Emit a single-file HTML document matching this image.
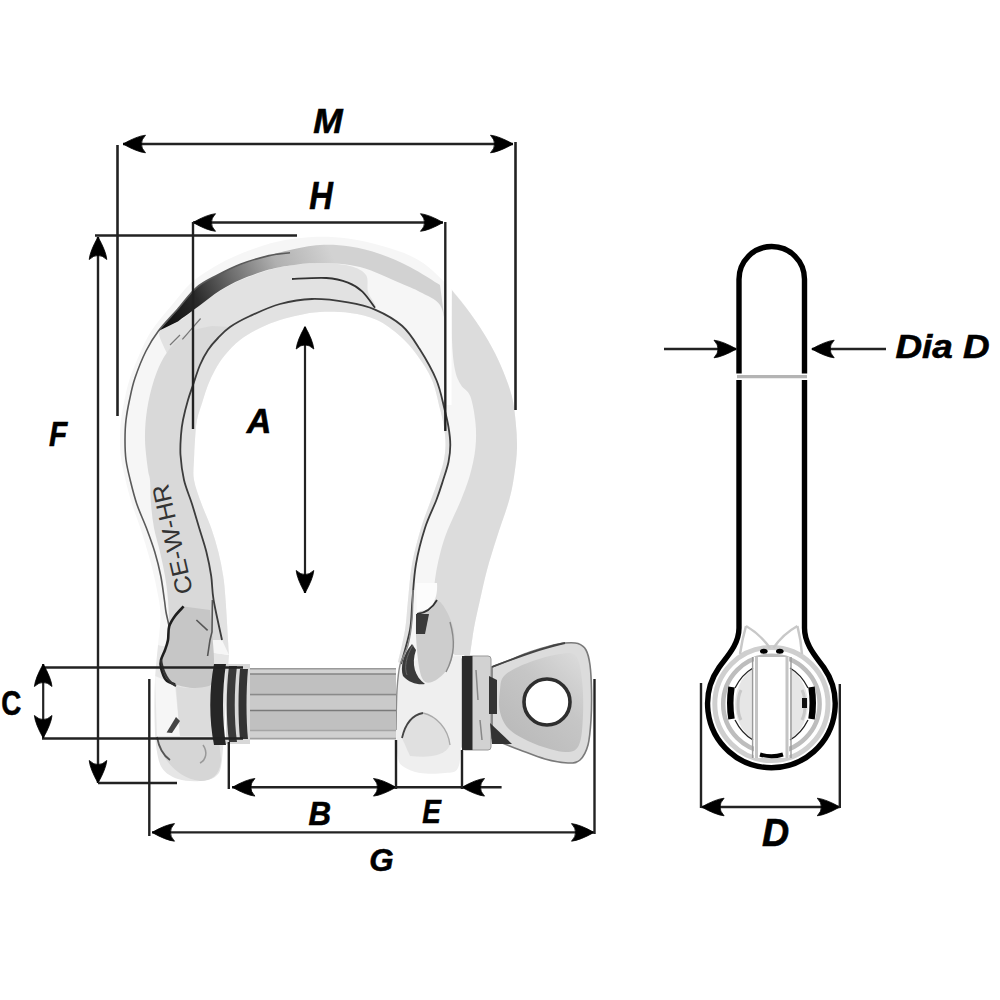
<!DOCTYPE html><html><head><meta charset="utf-8"><style>html,body{margin:0;padding:0;background:#fff;width:1000px;height:1000px;overflow:hidden}svg{display:block}text{font-family:"Liberation Sans",sans-serif;font-weight:bold;font-style:italic;fill:#111}</style></head><body>
<svg width="1000" height="1000" viewBox="0 0 1000 1000">
<defs><linearGradient id="gBow" x1="0" y1="0" x2="1" y2="0"><stop offset="0" stop-color="#e4e4e4"/><stop offset="0.5" stop-color="#ececec"/><stop offset="1" stop-color="#d8d8d8"/></linearGradient><linearGradient id="gPin" x1="0" y1="0" x2="0" y2="1"><stop offset="0" stop-color="#c8c8c8"/><stop offset="0.5" stop-color="#bdbdbd"/><stop offset="1" stop-color="#cfcfcf"/></linearGradient><linearGradient id="gStreak" gradientUnits="userSpaceOnUse" x1="165" y1="325" x2="330" y2="250"><stop offset="0" stop-color="#111"/><stop offset="0.22" stop-color="#2a2a2a"/><stop offset="0.45" stop-color="#6e6e6e"/><stop offset="0.7" stop-color="#b0b0b0"/><stop offset="1" stop-color="#d2d2d2"/></linearGradient><linearGradient id="gEye" gradientUnits="userSpaceOnUse" x1="500" y1="740" x2="585" y2="650"><stop offset="0" stop-color="#b8b8b8"/><stop offset="0.55" stop-color="#c6c6c6"/><stop offset="1" stop-color="#dedede"/></linearGradient></defs>
<g id="shackle"><path d="M158.0,645.0 C157.5,650.8 155.6,668.3 155.0,680.0 C154.4,691.7 154.3,704.2 154.5,715.0 C154.7,725.8 154.8,736.2 156.0,745.0 C157.2,753.8 158.3,762.3 162.0,768.0 C165.7,773.7 171.7,776.8 178.0,779.0 C184.3,781.2 193.7,781.5 200.0,781.0 C206.3,780.5 212.3,779.5 216.0,776.0 C219.7,772.5 220.3,772.7 222.0,760.0 C223.7,747.3 224.8,717.5 226.0,700.0 C227.2,682.5 228.5,662.5 229.0,655.0Z" fill="#e6e6e6"/><path d="M413.0,590.0 C412.8,595.0 412.8,610.8 412.0,620.0 C411.2,629.2 410.0,637.5 408.0,645.0 C406.0,652.5 401.8,657.5 400.0,665.0 C398.2,672.5 397.7,679.2 397.0,690.0 C396.3,700.8 395.8,718.7 396.0,730.0 C396.2,741.3 396.7,751.8 398.0,758.0 C399.3,764.2 400.3,764.5 404.0,767.0 C407.7,769.5 413.2,772.0 420.0,773.0 C426.8,774.0 438.7,773.8 445.0,773.0 C451.3,772.2 455.3,773.5 458.0,768.0 C460.7,762.5 460.5,751.3 461.0,740.0 C461.5,728.7 460.8,714.0 461.0,700.0 C461.2,686.0 460.5,664.3 462.0,656.0 C463.5,647.7 468.0,655.0 470.0,650.0 C472.0,645.0 472.7,634.3 474.0,626.0 C475.3,617.7 478.7,606.0 478.0,600.0 C477.3,594.0 471.3,591.7 470.0,590.0Z" fill="#efefef"/><path d="M158.0,645.0 C158.4,640.0 160.7,624.2 160.5,615.0 C160.3,605.8 158.8,599.2 157.0,590.0 C155.2,580.8 152.7,570.0 150.0,560.0 C147.3,550.0 144.0,539.3 141.0,530.0 C138.0,520.7 134.6,512.3 132.0,504.0 C129.4,495.7 127.3,487.7 125.5,480.0 C123.7,472.3 121.9,464.7 121.0,458.0 C120.1,451.3 120.0,446.3 120.0,440.0 C120.0,433.7 120.2,426.7 121.0,420.0 C121.8,413.3 123.0,407.0 124.5,400.0 C126.0,393.0 127.2,386.2 130.0,378.0 C132.8,369.8 137.3,359.0 141.0,351.0 C144.7,343.0 146.8,337.7 152.0,330.0 C157.2,322.3 165.5,312.8 172.0,305.0 C178.5,297.2 184.0,289.3 191.0,283.0 C198.0,276.7 205.8,271.8 214.0,267.0 C222.2,262.2 229.7,258.2 240.0,254.0 C250.3,249.8 264.0,244.8 276.0,242.0 C288.0,239.2 300.0,237.6 312.0,237.0 C324.0,236.4 336.0,236.9 348.0,238.5 C360.0,240.1 372.0,242.8 384.0,246.6 C396.0,250.3 408.8,253.9 420.0,261.0 C431.2,268.1 442.4,280.0 451.0,289.0 C459.6,298.0 465.3,306.3 471.5,315.0 C477.7,323.7 483.4,332.3 488.4,341.0 C493.4,349.7 497.5,357.8 501.4,367.0 C505.3,376.2 509.4,386.8 511.8,396.0 C514.2,405.2 514.8,413.3 515.7,422.0 C516.6,430.7 517.2,439.3 517.0,448.0 C516.8,456.7 515.7,465.3 514.4,474.0 C513.1,482.7 512.1,489.5 509.2,500.0 C506.3,510.5 500.7,525.3 497.0,537.0 C493.3,548.7 489.8,559.5 487.0,570.0 C484.2,580.5 482.2,590.3 480.0,600.0 C477.8,609.7 475.7,618.8 474.0,628.0 C472.3,637.2 470.7,650.5 470.0,655.0 L398,662 398.0,662.0 C399.2,656.7 403.3,640.3 405.0,630.0 C406.7,619.7 406.8,611.0 408.0,600.0 C409.2,589.0 409.8,576.0 412.0,564.0 C414.2,552.0 417.8,538.7 421.0,528.0 C424.2,517.3 428.2,507.9 431.0,500.0 C433.8,492.1 435.9,486.8 438.0,480.5 C440.1,474.2 442.2,467.9 443.5,462.0 C444.8,456.1 445.4,450.8 445.5,445.0 C445.6,439.2 444.9,433.0 444.0,427.0 C443.1,421.0 442.0,416.8 440.0,409.0 C438.0,401.2 435.8,389.0 432.0,380.0 C428.2,371.0 422.3,362.3 417.0,355.0 C411.7,347.7 406.7,341.8 400.0,336.0 C393.3,330.2 385.3,323.8 377.0,320.0 C368.7,316.2 359.5,314.3 350.0,313.0 C340.5,311.7 328.3,311.7 320.0,312.0 C311.7,312.3 306.7,313.7 300.0,315.0 C293.3,316.3 286.7,317.8 280.0,320.0 C273.3,322.2 266.7,324.7 260.0,328.0 C253.3,331.3 245.8,335.5 240.0,340.0 C234.2,344.5 229.2,350.0 225.0,355.0 C220.8,360.0 217.8,365.0 215.0,370.0 C212.2,375.0 210.0,380.0 208.0,385.0 C206.0,390.0 204.8,394.2 203.0,400.0 C201.2,405.8 198.3,413.3 197.0,420.0 C195.7,426.7 195.5,433.3 195.0,440.0 C194.5,446.7 194.2,453.3 194.0,460.0 C193.8,466.7 192.7,472.7 194.0,480.0 C195.3,487.3 198.7,496.0 201.6,504.0 C204.5,512.0 208.4,520.0 211.2,528.0 C214.0,536.0 216.4,544.0 218.4,552.0 C220.4,560.0 222.0,568.0 223.2,576.0 C224.4,584.0 224.6,586.8 225.6,600.0 C226.6,613.2 228.4,645.8 229.0,655.0 Z" fill="#f6f6f6"/><path d="M222.0,640.0 C220.6,633.3 215.4,610.7 213.6,600.0 C211.8,589.3 212.4,584.0 211.2,576.0 C210.0,568.0 208.4,560.0 206.4,552.0 C204.4,544.0 201.6,536.0 199.2,528.0 C196.8,520.0 194.5,512.0 192.0,504.0 C189.5,496.0 185.9,488.2 184.0,480.0 C182.1,471.8 181.0,462.5 180.5,455.0 C180.0,447.5 180.6,440.8 181.0,435.0 C181.4,429.2 181.8,425.8 183.0,420.0 C184.2,414.2 186.3,405.8 188.0,400.0 C189.7,394.2 191.0,390.8 193.0,385.0 C195.0,379.2 197.5,370.8 200.0,365.0 C202.5,359.2 205.0,354.5 208.0,350.0 C211.0,345.5 214.3,341.8 218.0,338.0 C221.7,334.2 224.7,330.7 230.0,327.0 C235.3,323.3 241.7,319.8 250.0,316.0 C258.3,312.2 269.7,306.8 280.0,304.0 C290.3,301.2 300.7,299.3 312.0,299.0 C323.3,298.7 337.5,300.6 348.0,302.4 C358.5,304.2 366.0,305.7 375.0,309.6 C384.0,313.5 394.6,319.3 402.0,325.8 C409.4,332.3 413.8,339.8 419.5,348.8 C425.2,357.8 432.2,370.0 436.4,380.0 C440.6,390.0 442.5,401.2 444.5,409.0 C446.5,416.8 447.5,421.0 448.5,427.0 C449.5,433.0 450.3,439.2 450.3,445.0 C450.3,450.8 449.7,456.1 448.5,462.0 C447.3,467.9 445.0,474.2 443.0,480.5 C441.0,486.8 439.4,492.1 436.4,500.0 C433.4,507.9 428.4,517.3 425.0,528.0 C421.6,538.7 418.1,552.0 416.0,564.0 C413.9,576.0 413.4,589.0 412.4,600.0 C411.4,611.0 411.9,619.3 410.0,630.0 C408.1,640.7 402.5,658.3 401.0,664.0 L398,662 398.0,662.0 C399.2,656.7 403.3,640.3 405.0,630.0 C406.7,619.7 406.8,611.0 408.0,600.0 C409.2,589.0 409.8,576.0 412.0,564.0 C414.2,552.0 417.8,538.7 421.0,528.0 C424.2,517.3 428.2,507.9 431.0,500.0 C433.8,492.1 435.9,486.8 438.0,480.5 C440.1,474.2 442.2,467.9 443.5,462.0 C444.8,456.1 445.4,450.8 445.5,445.0 C445.6,439.2 444.9,433.0 444.0,427.0 C443.1,421.0 442.0,416.8 440.0,409.0 C438.0,401.2 435.8,389.0 432.0,380.0 C428.2,371.0 422.3,362.3 417.0,355.0 C411.7,347.7 406.7,341.8 400.0,336.0 C393.3,330.2 385.3,323.8 377.0,320.0 C368.7,316.2 359.5,314.3 350.0,313.0 C340.5,311.7 328.3,311.7 320.0,312.0 C311.7,312.3 306.7,313.7 300.0,315.0 C293.3,316.3 286.7,317.8 280.0,320.0 C273.3,322.2 266.7,324.7 260.0,328.0 C253.3,331.3 245.8,335.5 240.0,340.0 C234.2,344.5 229.2,350.0 225.0,355.0 C220.8,360.0 217.8,365.0 215.0,370.0 C212.2,375.0 210.0,380.0 208.0,385.0 C206.0,390.0 204.8,394.2 203.0,400.0 C201.2,405.8 198.3,413.3 197.0,420.0 C195.7,426.7 195.5,433.3 195.0,440.0 C194.5,446.7 194.2,453.3 194.0,460.0 C193.8,466.7 192.7,472.7 194.0,480.0 C195.3,487.3 198.7,496.0 201.6,504.0 C204.5,512.0 208.4,520.0 211.2,528.0 C214.0,536.0 216.4,544.0 218.4,552.0 C220.4,560.0 222.0,568.0 223.2,576.0 C224.4,584.0 224.6,586.8 225.6,600.0 C226.6,613.2 228.4,645.8 229.0,655.0 Z" fill="#e2e2e2"/><path d="M160.0,330.0 C162.5,326.2 171.5,326.0 178.0,322.0 C184.5,318.0 192.0,311.2 199.0,306.0 C206.0,300.8 213.0,295.3 220.0,291.0 C227.0,286.7 232.8,283.5 241.0,280.0 C249.2,276.5 260.8,272.4 269.0,270.0 C277.2,267.6 281.5,266.6 290.0,265.4 C298.5,264.2 310.0,262.9 320.0,263.0 C330.0,263.1 342.3,264.0 350.0,266.0 C357.7,268.0 363.0,270.7 366.0,275.0 C369.0,279.3 366.5,286.5 368.0,292.0 C369.5,297.5 378.3,306.1 375.0,307.8 C371.7,309.5 358.5,303.9 348.0,302.4 C337.5,300.9 323.3,298.7 312.0,299.0 C300.7,299.3 290.3,301.2 280.0,304.0 C269.7,306.8 258.3,312.2 250.0,316.0 C241.7,319.8 235.3,323.3 230.0,327.0 C224.7,330.7 221.7,334.2 218.0,338.0 C214.3,341.8 211.0,345.5 208.0,350.0 C205.0,354.5 202.5,359.2 200.0,365.0 C197.5,370.8 197.0,384.5 193.0,385.0 C189.0,385.5 181.0,374.7 176.0,368.0 C171.0,361.3 165.7,351.3 163.0,345.0 C160.3,338.7 157.5,333.8 160.0,330.0Z" fill="#e2e2e2"/><path d="M170.0,640.0 C169.7,633.3 168.8,610.7 168.0,600.0 C167.2,589.3 166.3,584.0 165.0,576.0 C163.7,568.0 161.8,560.0 160.0,552.0 C158.2,544.0 155.5,536.0 154.0,528.0 C152.5,520.0 151.7,512.0 151.0,504.0 C150.3,496.0 150.5,485.7 150.0,480.0 C149.5,474.3 148.8,476.7 148.0,470.0 C147.2,463.3 145.2,450.0 145.0,440.0 C144.8,430.0 145.5,420.0 147.0,410.0 C148.5,400.0 151.2,388.8 154.0,380.0 C156.8,371.2 160.0,363.7 164.0,357.0 C168.0,350.3 172.8,344.5 178.0,340.0 C183.2,335.5 189.3,332.3 195.0,330.0 C200.7,327.7 209.2,326.7 212.0,326.0 L230,327 230.0,327.0 C228.0,328.8 221.7,334.2 218.0,338.0 C214.3,341.8 211.0,345.5 208.0,350.0 C205.0,354.5 202.5,359.2 200.0,365.0 C197.5,370.8 195.0,379.2 193.0,385.0 C191.0,390.8 189.7,394.2 188.0,400.0 C186.3,405.8 184.2,414.2 183.0,420.0 C181.8,425.8 181.4,429.2 181.0,435.0 C180.6,440.8 180.0,447.5 180.5,455.0 C181.0,462.5 182.1,471.8 184.0,480.0 C185.9,488.2 189.5,496.0 192.0,504.0 C194.5,512.0 196.8,520.0 199.2,528.0 C201.6,536.0 204.4,544.0 206.4,552.0 C208.4,560.0 210.0,568.0 211.2,576.0 C212.4,584.0 211.8,589.3 213.6,600.0 C215.4,610.7 220.6,633.3 222.0,640.0 Z" fill="#d9d9d9"/><path d="M158.4,331.0 C161.7,327.3 171.7,316.0 178.0,308.8 C184.3,301.6 189.7,293.4 196.2,287.8 C202.7,282.2 209.7,279.2 217.2,275.2 C224.7,271.2 232.4,267.3 241.0,264.0 C249.6,260.7 260.8,257.9 269.0,255.6 C277.2,253.3 281.5,251.8 290.0,250.0 C298.5,248.2 310.0,245.6 320.0,245.0 C330.0,244.4 340.0,245.0 350.0,246.5 C360.0,248.0 370.0,250.6 380.0,254.0 C390.0,257.4 400.0,261.8 410.0,267.0 C420.0,272.2 435.0,282.0 440.0,285.0 L446,330 446.0,330.0 C445.0,325.8 444.3,311.3 440.0,305.0 C435.7,298.7 426.7,295.7 420.0,292.0 C413.3,288.3 410.0,287.2 400.0,283.0 C390.0,278.8 373.3,270.3 360.0,267.0 C346.7,263.7 331.7,263.3 320.0,263.0 C308.3,262.7 298.5,264.3 290.0,265.4 C281.5,266.5 277.2,267.3 269.0,269.6 C260.8,271.9 249.2,275.9 241.0,279.4 C232.8,282.9 227.0,286.2 220.0,290.6 C213.0,295.0 206.0,300.9 199.0,306.0 C192.0,311.1 181.5,318.8 178.0,321.4 Z" fill="url(#gStreak)"/><path d="M452.0,290.0 C452.0,298.3 451.5,326.7 452.0,340.0 C452.5,353.3 453.5,362.5 455.0,370.0 C456.5,377.5 458.5,380.7 461.0,385.0 C463.5,389.3 467.8,389.8 470.2,396.0 C472.6,402.2 474.5,413.3 475.4,422.0 C476.3,430.7 476.3,439.3 475.4,448.0 C474.5,456.7 472.6,465.3 470.2,474.0 C467.8,482.7 465.2,489.5 461.0,500.0 C456.8,510.5 449.2,524.8 445.0,537.0 C440.8,549.2 437.8,562.5 436.0,573.0 C434.2,583.5 433.7,591.2 434.0,600.0 C434.3,608.8 435.7,618.0 438.0,626.0 C440.3,634.0 445.2,643.2 448.0,648.0 C450.8,652.8 453.8,653.8 455.0,655.0 L470,655 470.0,655.0 C470.7,650.5 472.3,637.2 474.0,628.0 C475.7,618.8 477.8,609.7 480.0,600.0 C482.2,590.3 484.2,580.5 487.0,570.0 C489.8,559.5 493.3,548.7 497.0,537.0 C500.7,525.3 506.3,510.5 509.2,500.0 C512.1,489.5 513.1,482.7 514.4,474.0 C515.7,465.3 516.8,456.7 517.0,448.0 C517.2,439.3 516.6,430.7 515.7,422.0 C514.8,413.3 514.2,405.2 511.8,396.0 C509.4,386.8 505.3,376.2 501.4,367.0 C497.5,357.8 493.4,349.7 488.4,341.0 C483.4,332.3 477.7,323.7 471.5,315.0 C465.3,306.3 454.4,293.3 451.0,289.0 Z" fill="#dcdcdc"/><rect x="446.5" y="275" width="5" height="130" fill="#fff"/><path d="M169.2,626.4 C168.7,624.0 166.8,616.4 166.0,612.0 C165.2,607.6 165.3,606.0 164.4,600.0 C163.5,594.0 162.4,584.0 160.8,576.0 C159.2,568.0 157.2,560.0 154.8,552.0 C152.4,544.0 149.4,536.0 146.4,528.0 C143.4,520.0 139.5,512.0 136.8,504.0 C134.1,496.0 132.0,487.3 130.2,480.0 C128.4,472.7 126.9,466.7 126.0,460.0 C125.1,453.3 125.0,446.7 125.0,440.0 C125.0,433.3 125.2,426.7 126.0,420.0 C126.8,413.3 128.0,407.0 129.5,400.0 C131.0,393.0 132.2,386.2 135.0,378.0 C137.8,369.8 142.1,358.8 146.0,351.0 C149.9,343.2 153.1,338.0 158.4,331.0 C163.7,324.0 171.7,316.0 178.0,308.8 C184.3,301.6 189.7,293.4 196.2,287.8 C202.7,282.2 209.7,279.2 217.2,275.2 C224.7,271.2 232.4,267.3 241.0,264.0 C249.6,260.7 260.8,257.5 269.0,255.6 C277.2,253.7 286.5,253.3 290.0,252.8" fill="none" stroke="#5a5a5a" stroke-width="1.6"/><path d="M222.0,640.0 C220.6,633.3 215.4,610.7 213.6,600.0 C211.8,589.3 212.4,584.0 211.2,576.0 C210.0,568.0 208.4,560.0 206.4,552.0 C204.4,544.0 201.6,536.0 199.2,528.0 C196.8,520.0 194.5,512.0 192.0,504.0 C189.5,496.0 185.9,488.2 184.0,480.0 C182.1,471.8 181.0,462.5 180.5,455.0 C180.0,447.5 180.6,440.8 181.0,435.0 C181.4,429.2 181.8,425.8 183.0,420.0 C184.2,414.2 186.3,405.8 188.0,400.0 C189.7,394.2 191.0,390.8 193.0,385.0 C195.0,379.2 197.5,370.8 200.0,365.0 C202.5,359.2 205.0,354.5 208.0,350.0 C211.0,345.5 214.3,341.8 218.0,338.0 C221.7,334.2 224.7,330.7 230.0,327.0 C235.3,323.3 241.7,319.8 250.0,316.0 C258.3,312.2 269.7,306.8 280.0,304.0 C290.3,301.2 300.7,299.3 312.0,299.0 C323.3,298.7 337.5,300.6 348.0,302.4 C358.5,304.2 366.0,305.7 375.0,309.6 C384.0,313.5 394.6,319.3 402.0,325.8 C409.4,332.3 413.8,339.8 419.5,348.8 C425.2,357.8 432.2,370.0 436.4,380.0 C440.6,390.0 442.5,401.2 444.5,409.0 C446.5,416.8 447.5,421.0 448.5,427.0 C449.5,433.0 450.3,439.2 450.3,445.0 C450.3,450.8 449.7,456.1 448.5,462.0 C447.3,467.9 445.0,474.2 443.0,480.5 C441.0,486.8 439.4,492.1 436.4,500.0 C433.4,507.9 428.4,517.3 425.0,528.0 C421.6,538.7 418.1,552.0 416.0,564.0 C413.9,576.0 413.4,589.0 412.4,600.0 C411.4,611.0 411.9,619.3 410.0,630.0 C408.1,640.7 402.5,658.3 401.0,664.0" fill="none" stroke="#3c3c3c" stroke-width="1.8"/><path d="M292.0,279.0 C297.7,278.8 317.1,277.4 326.4,278.0 C335.7,278.6 342.0,280.3 348.0,282.6 C354.0,284.9 357.9,287.4 362.4,291.6 C366.9,295.8 372.9,305.1 375.0,307.8" fill="none" stroke="#333" stroke-width="1.8"/><path d="M182.4,339.3 L200.6,318.5 M170,345 L180,335" stroke="#777" stroke-width="1.2" fill="none"/><text transform="translate(193,592) rotate(-103)" font-size="24" textLength="112" lengthAdjust="spacingAndGlyphs" style="font-style:normal;font-weight:normal;fill:#333">CE-W-HR</text><path d="M155,676 L175,684 L180,736 L157,736 Z" fill="#f6f6f6"/><path d="M183.6,606.4 C182.2,608.0 177.4,612.7 175.0,616.0 C172.6,619.3 170.4,622.4 169.2,626.4 C168.0,630.4 168.7,636.1 168.0,640.0 C167.3,643.9 166.2,646.7 165.0,650.0 C163.8,653.3 161.7,657.0 161.0,660.0 C160.3,663.0 160.2,664.7 161.0,668.0 C161.8,671.3 163.7,677.3 166.0,680.0 C168.3,682.7 170.2,683.1 175.0,684.4 C179.8,685.7 188.8,688.1 195.0,688.0 C201.2,687.9 208.8,688.7 212.0,684.0 C215.2,679.3 214.0,668.7 214.0,660.0 C214.0,651.3 212.7,640.3 212.0,632.0 C211.3,623.7 210.3,613.7 210.0,610.0Z" fill="#c6c6c6"/><path d="M183.6,606.4 C182.2,608.0 177.4,612.7 175.0,616.0 C172.6,619.3 170.4,622.4 169.2,626.4 C168.0,630.4 168.7,636.1 168.0,640.0 C167.3,643.9 166.2,646.7 165.0,650.0 C163.8,653.3 161.7,657.0 161.0,660.0 C160.3,663.0 160.2,664.7 161.0,668.0 C161.8,671.3 163.7,677.3 166.0,680.0 C168.3,682.7 173.5,683.7 175.0,684.4" fill="none" stroke="#1e1e1e" stroke-width="2.6"/><path d="M161,660 C163,672 168,682 176,686" fill="none" stroke="#333" stroke-width="2.2"/><path d="M196.4,620 L207.6,630.4" stroke="#555" stroke-width="1.6"/><path d="M212.4,600 L212,632 L210,640 L207.6,656" fill="none" stroke="#555" stroke-width="1.6"/><path d="M176,686 C190,690 205,688 214,684 L216,736 L180,736 Z" fill="#dcdcdc"/><path d="M166.6,732.4 L176,717 L180,721 L172,733 Z" fill="#444"/><path d="M157,738 C160,755 175,778 200,781 C212,781 220,775 221,760 L219,740 Z" fill="#d6d6d6"/><path d="M157,737 C159,748 164,756 170,760" fill="none" stroke="#555" stroke-width="1.8"/><path d="M203,745 C208,752 206,760 200,763" fill="none" stroke="#999" stroke-width="1.5"/><path d="M413.0,590.0 C412.8,595.0 412.8,610.8 412.0,620.0 C411.2,629.2 410.0,637.5 408.0,645.0 C406.0,652.5 401.8,657.5 400.0,665.0 C398.2,672.5 397.7,679.2 397.0,690.0 C396.3,700.8 396.2,723.3 396.0,730.0" fill="none" stroke="#8a8a8a" stroke-width="1.4"/><path d="M416,583 L437,583 C438,598 433,610 417,614 Z" fill="#fcfcfc"/><path d="M417.0,615.0 C419.2,608.3 426.5,612.3 430.0,610.0 C433.5,607.7 435.2,600.7 438.0,601.0 C440.8,601.3 444.3,606.8 447.0,612.0 C449.7,617.2 453.0,624.8 454.0,632.0 C455.0,639.2 454.3,648.5 453.0,655.0 C451.7,661.5 449.5,666.5 446.0,671.0 C442.5,675.5 436.0,680.8 432.0,682.0 C428.0,683.2 424.5,683.3 422.0,678.0 C419.5,672.7 417.8,660.5 417.0,650.0 C416.2,639.5 414.8,621.7 417.0,615.0Z" fill="#cdcdcd"/><path d="M417,614 C426,613 433,607 437,600" fill="none" stroke="#333" stroke-width="1.8"/><path d="M450,622 C455,640 455,655 446,672" fill="none" stroke="#8a8a8a" stroke-width="1.4"/><path d="M416,614 L429,614 L425,634 L416,634 Z" fill="#3a3a3a"/><path d="M412,644 C403,654 400,668 403,676 C409,683 418,685 425,684 C415,677 411,664 416,650 Z" fill="#3a3a3a"/><path d="M413,645 C406,656 404,668 407,675" fill="none" stroke="#666" stroke-width="1"/><path d="M402,738 C405,725 412,715 423,713 C436,716 448,728 450,745 C445,756 430,758 410,756 Z" fill="#e0e0e0"/><path d="M402,738 C405,725 412,715 423,713" fill="none" stroke="#444" stroke-width="1.8"/><path d="M423,713 C436,716 448,728 450,745" fill="none" stroke="#aaa" stroke-width="1.3"/><rect x="249" y="668" width="147" height="71" fill="#c0c0c0"/><rect x="249" y="668" width="147" height="6" fill="#d2d2d2"/><rect x="249" y="696" width="147" height="14" fill="#cacaca"/><rect x="249" y="731" width="147" height="8" fill="#d0d0d0"/><line x1="249" y1="668.8" x2="396" y2="668.8" stroke="#9a9a9a" stroke-width="1.6"/><line x1="249" y1="674" x2="396" y2="674" stroke="#858585" stroke-width="1.6"/><line x1="249" y1="694.5" x2="396" y2="694.5" stroke="#8a8a8a" stroke-width="1.6"/><line x1="249" y1="710.5" x2="396" y2="710.5" stroke="#7a7a7a" stroke-width="1.6"/><line x1="249" y1="730.5" x2="396" y2="730.5" stroke="#a5a5a5" stroke-width="1.6"/><line x1="249" y1="738.6" x2="396" y2="738.6" stroke="#a0a0a0" stroke-width="1.6"/><path d="M214,664 C209,690 209,720 214,745 L226,745 C222,720 222,690 226,664 Z" fill="#262626"/><rect x="226" y="664" width="24" height="80" fill="#d8d8d8"/><path d="M229,666 C226,690 226,720 229,742 L237,742 C234,720 234,690 237,666Z" fill="#3a3a3a"/><path d="M240,669 C238,690 238,720 240,739 L248,739 C246,720 246,690 248,669Z" fill="#333"/><rect x="462" y="656" width="29" height="94" rx="3" fill="#d2d2d2" stroke="#999" stroke-width="1"/><rect x="462" y="656" width="10.5" height="94" fill="#2a2a2a"/><path d="M476,670 L478,700 M480,720 L482,740" stroke="#888" stroke-width="1.5"/><path d="M492.0,667.0 C495.0,665.8 503.7,662.5 510.0,660.0 C516.3,657.5 523.3,654.3 530.0,652.0 C536.7,649.7 544.2,647.5 550.0,646.0 C555.8,644.5 560.3,643.4 565.0,643.0 C569.7,642.6 574.5,642.3 578.0,643.5 C581.5,644.7 584.0,646.4 586.0,650.0 C588.0,653.6 589.1,658.3 590.0,665.0 C590.9,671.7 591.3,680.8 591.5,690.0 C591.7,699.2 591.6,710.8 591.0,720.0 C590.4,729.2 589.8,738.3 588.0,745.0 C586.2,751.7 583.3,757.0 580.0,760.0 C576.7,763.0 573.8,763.2 568.0,763.0 C562.2,762.8 553.0,761.2 545.0,759.0 C537.0,756.8 527.5,752.8 520.0,750.0 C512.5,747.2 504.7,744.0 500.0,742.0 C495.3,740.0 493.3,738.7 492.0,738.0Z" fill="#dcdcdc" stroke="#7a7a7a" stroke-width="1.6"/><path d="M505.0,675.0 C510.0,670.3 520.8,665.5 530.0,662.0 C539.2,658.5 552.3,655.0 560.0,654.0 C567.7,653.0 572.3,651.7 576.0,656.0 C579.7,660.3 580.8,670.2 582.0,680.0 C583.2,689.8 583.5,704.2 583.0,715.0 C582.5,725.8 582.0,738.8 579.0,745.0 C576.0,751.2 572.3,752.2 565.0,752.0 C557.7,751.8 544.2,747.7 535.0,744.0 C525.8,740.3 515.8,735.3 510.0,730.0 C504.2,724.7 501.7,718.7 500.0,712.0 C498.3,705.3 499.2,696.2 500.0,690.0 C500.8,683.8 500.0,679.7 505.0,675.0Z" fill="url(#gEye)"/><path d="M492,667 C510,660 540,648 565,643" fill="none" stroke="#444" stroke-width="1.8"/><path d="M489,676 L497,680 L497,714 L489,714Z" fill="#333"/><path d="M490,723 L512,744 L492,744Z" fill="#333"/><circle cx="547" cy="702" r="23" fill="#fff" stroke="#2e2e2e" stroke-width="3.6"/></g>
<g id="dims"><line x1="123" y1="144" x2="513" y2="144" stroke="#222" stroke-width="2.6"/><path d="M123.0,144.0 Q136.9,136.1 145.5,135.2 Q141.1,140.0 141.5,144.0 Q141.1,148.0 145.5,152.8 Q136.9,151.9 123.0,144.0Z" fill="#000" stroke="#000" stroke-width="0.8" stroke-linejoin="round"/><path d="M513.0,144.0 Q499.1,136.1 490.5,135.2 Q494.9,140.0 494.5,144.0 Q494.9,148.0 490.5,152.8 Q499.1,151.9 513.0,144.0Z" fill="#000" stroke="#000" stroke-width="0.8" stroke-linejoin="round"/><line x1="117.5" y1="145" x2="117.5" y2="416" stroke="#222" stroke-width="2.6"/><line x1="515.5" y1="142" x2="515.5" y2="410" stroke="#222" stroke-width="2.6"/><line x1="193" y1="222.5" x2="443" y2="222.5" stroke="#222" stroke-width="2.3"/><path d="M193.0,222.5 Q206.9,214.6 215.5,213.7 Q211.1,218.5 211.5,222.5 Q211.1,226.5 215.5,231.3 Q206.9,230.4 193.0,222.5Z" fill="#000" stroke="#000" stroke-width="0.8" stroke-linejoin="round"/><path d="M443.0,222.5 Q429.1,214.6 420.5,213.7 Q424.9,218.5 424.5,222.5 Q424.9,226.5 420.5,231.3 Q429.1,230.4 443.0,222.5Z" fill="#000" stroke="#000" stroke-width="0.8" stroke-linejoin="round"/><line x1="193" y1="222" x2="193" y2="429" stroke="#222" stroke-width="2.4"/><line x1="445.3" y1="222" x2="445.3" y2="431" stroke="#222" stroke-width="2.4"/><line x1="95" y1="235.5" x2="297" y2="235.5" stroke="#222" stroke-width="2.4"/><line x1="98" y1="237" x2="98" y2="783" stroke="#222" stroke-width="2.4"/><path d="M98.0,237.0 Q90.1,250.9 89.2,259.5 Q94.0,255.1 98.0,255.5 Q102.0,255.1 106.8,259.5 Q105.9,250.9 98.0,237.0Z" fill="#000" stroke="#000" stroke-width="0.8" stroke-linejoin="round"/><path d="M98.0,783.0 Q90.1,769.0 89.2,760.5 Q94.0,764.9 98.0,764.5 Q102.0,764.9 106.8,760.5 Q105.9,769.0 98.0,783.0Z" fill="#000" stroke="#000" stroke-width="0.8" stroke-linejoin="round"/><line x1="98" y1="783" x2="177" y2="783" stroke="#222" stroke-width="2.4"/><line x1="305" y1="327" x2="305" y2="593" stroke="#222" stroke-width="2.2"/><path d="M305.0,326.5 Q297.1,340.4 296.2,349.0 Q301.0,344.6 305.0,345.0 Q309.0,344.6 313.8,349.0 Q312.9,340.4 305.0,326.5Z" fill="#000" stroke="#000" stroke-width="0.8" stroke-linejoin="round"/><path d="M305.0,593.0 Q297.1,579.0 296.2,570.5 Q301.0,574.9 305.0,574.5 Q309.0,574.9 313.8,570.5 Q312.9,579.0 305.0,593.0Z" fill="#000" stroke="#000" stroke-width="0.8" stroke-linejoin="round"/><line x1="42" y1="667.5" x2="243" y2="667.5" stroke="#222" stroke-width="2.4"/><line x1="42" y1="738.5" x2="243" y2="738.5" stroke="#222" stroke-width="2.4"/><line x1="43.2" y1="664" x2="43.2" y2="738" stroke="#222" stroke-width="2.2"/><path d="M43.2,664.0 Q35.3,678.0 34.4,686.5 Q39.2,682.1 43.2,682.5 Q47.2,682.1 52.0,686.5 Q51.1,678.0 43.2,664.0Z" fill="#000" stroke="#000" stroke-width="0.8" stroke-linejoin="round"/><path d="M43.2,738.0 Q35.3,724.0 34.4,715.5 Q39.2,719.9 43.2,719.5 Q47.2,719.9 52.0,715.5 Q51.1,724.0 43.2,738.0Z" fill="#000" stroke="#000" stroke-width="0.8" stroke-linejoin="round"/><line x1="152" y1="832.4" x2="594" y2="832.4" stroke="#222" stroke-width="2.4"/><path d="M152.0,832.4 Q165.9,824.5 174.5,823.6 Q170.1,828.4 170.5,832.4 Q170.1,836.4 174.5,841.2 Q165.9,840.3 152.0,832.4Z" fill="#000" stroke="#000" stroke-width="0.8" stroke-linejoin="round"/><path d="M594.0,832.4 Q580.0,824.5 571.5,823.6 Q575.9,828.4 575.5,832.4 Q575.9,836.4 571.5,841.2 Q580.0,840.3 594.0,832.4Z" fill="#000" stroke="#000" stroke-width="0.8" stroke-linejoin="round"/><line x1="149.3" y1="679" x2="149.3" y2="836" stroke="#222" stroke-width="2.4"/><line x1="594.5" y1="679" x2="594.5" y2="834" stroke="#222" stroke-width="2.4"/><line x1="232" y1="787.3" x2="396" y2="787.3" stroke="#222" stroke-width="2.4"/><path d="M232.4,787.3 Q246.3,779.4 254.9,778.5 Q250.5,783.3 250.9,787.3 Q250.5,791.3 254.9,796.1 Q246.3,795.2 232.4,787.3Z" fill="#000" stroke="#000" stroke-width="0.8" stroke-linejoin="round"/><path d="M396.0,787.3 Q382.1,779.4 373.5,778.5 Q377.9,783.3 377.5,787.3 Q377.9,791.3 373.5,796.1 Q382.1,795.2 396.0,787.3Z" fill="#000" stroke="#000" stroke-width="0.8" stroke-linejoin="round"/><line x1="228.8" y1="742" x2="228.8" y2="789" stroke="#222" stroke-width="2.4"/><line x1="396" y1="740" x2="396" y2="789" stroke="#222" stroke-width="2.4"/><line x1="396" y1="787.3" x2="501.6" y2="787.3" stroke="#222" stroke-width="2.4"/><path d="M462.0,787.3 Q475.9,779.4 484.5,778.5 Q480.1,783.3 480.5,787.3 Q480.1,791.3 484.5,796.1 Q475.9,795.2 462.0,787.3Z" fill="#000" stroke="#000" stroke-width="0.8" stroke-linejoin="round"/><line x1="462" y1="750" x2="462" y2="789" stroke="#222" stroke-width="2.4"/><line x1="701.6" y1="807" x2="839.8" y2="807" stroke="#222" stroke-width="2.4"/><path d="M701.6,807.0 Q715.6,799.1 724.1,798.2 Q719.7,803.0 720.1,807.0 Q719.7,811.0 724.1,815.8 Q715.6,814.9 701.6,807.0Z" fill="#000" stroke="#000" stroke-width="0.8" stroke-linejoin="round"/><path d="M839.8,807.0 Q825.8,799.1 817.3,798.2 Q821.7,803.0 821.3,807.0 Q821.7,811.0 817.3,815.8 Q825.8,814.9 839.8,807.0Z" fill="#000" stroke="#000" stroke-width="0.8" stroke-linejoin="round"/><line x1="701" y1="683" x2="701" y2="808" stroke="#222" stroke-width="2.4"/><line x1="839.8" y1="684" x2="839.8" y2="808" stroke="#222" stroke-width="2.4"/><line x1="664" y1="349" x2="736" y2="349" stroke="#222" stroke-width="2.4"/><path d="M736.5,349.0 Q722.5,341.1 714.0,340.2 Q718.4,345.0 718.0,349.0 Q718.4,353.0 714.0,357.8 Q722.5,356.9 736.5,349.0Z" fill="#000" stroke="#000" stroke-width="0.8" stroke-linejoin="round"/><line x1="812" y1="349" x2="886" y2="349" stroke="#222" stroke-width="2.4"/><path d="M811.7,349.0 Q825.7,341.1 834.2,340.2 Q829.8,345.0 830.2,349.0 Q829.8,353.0 834.2,357.8 Q825.7,356.9 811.7,349.0Z" fill="#000" stroke="#000" stroke-width="0.8" stroke-linejoin="round"/></g>
<path d="M739,279.25 A32.75,32.75 0 0 1 804.5,279.25 L804.5,628 C804.5,645 816.8,657.6 823.7,667.4 A63.8,63.8 0 1 1 719.1,667.4 C726.0,657.6 739,645 739,628 Z" fill="#fff" stroke="#000" stroke-width="5.4"/>
<rect x="734" y="373.5" width="75" height="6.5" fill="#fff"/>
<line x1="737" y1="376.7" x2="807" y2="376.7" stroke="#b4b4b4" stroke-width="3.2"/>
<circle cx="771.4" cy="704.0" r="56.6" fill="none" stroke="#cfcfcf" stroke-width="5"/>
<circle cx="771.4" cy="704.0" r="48.2" fill="none" stroke="#bdbdbd" stroke-width="4.5"/>
<path d="M753,668 C740,678 735,692 735,704 C735,716 740,730 753,740 Z" fill="#e6e6e6"/>
<path d="M790,668 C803,678 808,692 808,704 C808,716 803,730 790,740 Z" fill="#e6e6e6"/>
<path d="M735,688 C740,678 746,672 753,668 M735,720 C740,730 746,736 753,740 M808,688 C803,678 797,672 790,668 M808,720 C803,730 797,736 790,740" fill="none" stroke="#222" stroke-width="1.3"/>
<path d="M741,690 C737,698 737,712 741,720" fill="none" stroke="#c8c8c8" stroke-width="3"/>
<path d="M802,690 C806,698 806,712 802,720" fill="none" stroke="#c8c8c8" stroke-width="3"/>
<path d="M731.5,687 C730,697 730,710 731.5,719" fill="none" stroke="#000" stroke-width="6.5"/>
<path d="M811.5,687 C813,697 813,710 811.5,719" fill="none" stroke="#000" stroke-width="6.5"/>
<rect x="802" y="698" width="5" height="10" fill="#111"/>
<rect x="754" y="657" width="35" height="101" fill="#fff"/>
<path d="M752.6,657 L752.6,758 M791,657 L791,758" stroke="#9a9a9a" stroke-width="1.4"/>
<path d="M756.5,657 L756.5,758 M787,657 L787,758" stroke="#c4c4c4" stroke-width="3"/>
<ellipse cx="763.8" cy="651.2" rx="3.8" ry="2.5" fill="#000"/><ellipse cx="779.8" cy="651.2" rx="3.8" ry="2.5" fill="#000"/>
<path d="M760,754.5 Q771.5,758 783,754.5" fill="none" stroke="#000" stroke-width="4"/>
<path d="M746,626 Q760,634 770,648 M746,626 Q742,640 740,654 M797.4,626 Q783,634 773.4,648 M797.4,626 Q801,640 802,654" fill="none" stroke="#c8c8c8" stroke-width="2.5"/>
<text transform="translate(313.3,132.9) scale(0.986,1)" font-size="35.8" style="fill:#000" stroke="#000" stroke-width="0.6">M</text>
<text transform="translate(309.3,209.4) scale(0.857,1)" font-size="38.2" style="fill:#000" stroke="#000" stroke-width="0.6">H</text>
<text transform="translate(246.8,433.4) scale(0.966,1)" font-size="35.3" style="fill:#000" stroke="#000" stroke-width="0.6">A</text>
<text transform="translate(48.9,446.2) scale(0.833,1)" font-size="35.8" style="fill:#000" stroke="#000" stroke-width="0.6">F</text>
<text transform="translate(1.3,715.0) scale(0.803,1)" font-size="34.5" style="font-style:normal;fill:#000" stroke="#000" stroke-width="0.6">C</text>
<text transform="translate(308.4,825.2) scale(0.928,1)" font-size="33.6" style="fill:#000" stroke="#000" stroke-width="0.6">B</text>
<text transform="translate(422.3,822.8) scale(0.845,1)" font-size="33.0" style="fill:#000" stroke="#000" stroke-width="0.6">E</text>
<text transform="translate(369.2,870.5) scale(0.975,1)" font-size="32.1" style="fill:#000" stroke="#000" stroke-width="0.6">G</text>
<text transform="translate(762.0,846.2) scale(0.991,1)" font-size="38.0" style="fill:#000" stroke="#000" stroke-width="0.6">D</text>
<text transform="translate(895.5,357.5) scale(1.081,1)" font-size="34.1" style="fill:#000" stroke="#000" stroke-width="0.6">Dia D</text>
</svg></body></html>
